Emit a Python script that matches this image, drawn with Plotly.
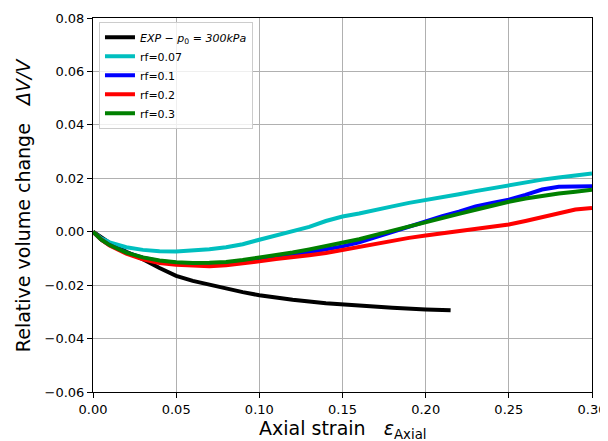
import plotly.graph_objects as go

# Experimental curve
exp_x = [0, 0.005, 0.01, 0.02, 0.03, 0.04, 0.05, 0.06, 0.07, 0.08, 0.09, 0.10,
         0.12, 0.14, 0.16, 0.18, 0.20, 0.215]
exp_y = [0, -0.0022, -0.0042, -0.0075, -0.0103, -0.0136, -0.0165, -0.0184, -0.0199,
         -0.0213, -0.0226, -0.0238, -0.0255, -0.0268, -0.0278, -0.0285, -0.0291, -0.0294]

# Simulation strain grid
sim_x = [0, 0.005, 0.01, 0.02, 0.03, 0.04, 0.05, 0.06, 0.07, 0.08, 0.09, 0.10,
         0.11, 0.12, 0.13, 0.14, 0.15, 0.16, 0.17, 0.18, 0.19, 0.20, 0.21, 0.22,
         0.23, 0.24, 0.25, 0.26, 0.27, 0.28, 0.29, 0.30]

rf007_y = [0, -0.0025, -0.0040, -0.0058, -0.0068, -0.0073, -0.0074, -0.0071, -0.0066,
           -0.0058, -0.0047, -0.0030, -0.0014, 0.0003, 0.0018, 0.0040, 0.0057, 0.0068,
           0.0080, 0.0095, 0.0108, 0.0118, 0.0130, 0.0140, 0.0152, 0.0163, 0.0175,
           0.0185, 0.0195, 0.0203, 0.0210, 0.0218]
rf01_y = [0, -0.0030, -0.0050, -0.0078, -0.0097, -0.0110, -0.0117, -0.0121, -0.0122,
          -0.0119, -0.0114, -0.0105, -0.0097, -0.0088, -0.0077, -0.0066, -0.0055,
          -0.0040, -0.0020, -0.0002, 0.0020, 0.0040, 0.0058, 0.0075, 0.0095, 0.0108,
          0.0120, 0.0138, 0.0158, 0.0168, 0.0170, 0.0170]
rf02_y = [0, -0.0030, -0.0052, -0.0082, -0.0103, -0.0117, -0.0124, -0.0128, -0.0129,
          -0.0126, -0.0120, -0.0111, -0.0102, -0.0096, -0.0088, -0.0080, -0.0068,
          -0.0058, -0.0045, -0.0035, -0.0023, -0.0014, -0.0006, 0.0002, 0.0010, 0.0018,
          0.0027, 0.0040, 0.0055, 0.0070, 0.0083, 0.0089]
rf03_y = [0, -0.0030, -0.0050, -0.0078, -0.0096, -0.0108, -0.0114, -0.0117, -0.0116,
          -0.0113, -0.0106, -0.0097, -0.0088, -0.0078, -0.0066, -0.0054, -0.0040,
          -0.0028, -0.0012, 0.0004, 0.0022, 0.0038, 0.0052, 0.0067, 0.0082, 0.0098,
          0.0112, 0.0124, 0.0135, 0.0143, 0.0150, 0.0157]

x_ticks = [0.00, 0.05, 0.10, 0.15, 0.20, 0.25, 0.30]
y_ticks = [-0.06, -0.04, -0.02, 0.00, 0.02, 0.04, 0.06, 0.08]

FONT = "DejaVu Sans"
LW = 4

fig = go.Figure()
fig.add_trace(go.Scatter(x=exp_x, y=exp_y, mode="lines",
                         name="<i>EXP − p</i><sub>0</sub><i> = 300kPa</i>",
                         line=dict(color="black", width=LW)))
for name, ys, col in [("rf=0.07", rf007_y, "#00BFBF"),
                      ("rf=0.1", rf01_y, "#0000FF"),
                      ("rf=0.2", rf02_y, "#FF0000"),
                      ("rf=0.3", rf03_y, "#008000")]:
    fig.add_trace(go.Scatter(x=sim_x, y=ys, mode="lines", name=name,
                             line=dict(color=col, width=LW)))

axis_common = dict(showline=True, linecolor="black", linewidth=1, mirror=True,
                   ticks="outside", ticklen=5, tickcolor="black",
                   showgrid=True, gridcolor="#b0b0b0", gridwidth=1.2,
                   zeroline=False, automargin=False,
                   tickfont=dict(family=FONT, size=13, color="black"))

fig.update_xaxes(range=[0, 0.30], tickvals=x_ticks, tickformat=".2f", **axis_common)
fig.update_yaxes(range=[-0.06, 0.08], tickvals=y_ticks, tickformat=".2f", **axis_common)

fig.add_annotation(text="Axial strain   <i>ε</i><sub>Axial</sub>", xref="paper", yref="paper",
                   x=0.5, y=-0.1, xanchor="center", yanchor="middle", showarrow=False,
                   font=dict(family=FONT, size=19, color="black"))
fig.add_annotation(text="Relative volume change   <i>ΔV/V</i>", xref="paper", yref="paper",
                   x=-0.14, y=0.5, xanchor="center", yanchor="middle", showarrow=False,
                   textangle=-90, font=dict(family=FONT, size=19, color="black"))

# page body has an 8px default margin, so the figure is 8px smaller than the window
fig.update_layout(
    width=600, height=433,
    margin=dict(l=85, r=16, t=10, b=49),
    paper_bgcolor="white", plot_bgcolor="white",
    font=dict(family=FONT, color="black"),
    showlegend=True,
    legend=dict(x=0.012, y=0.99, xanchor="left", yanchor="top",
                bgcolor="rgba(255,255,255,0.8)", bordercolor="#cccccc", borderwidth=1,
                font=dict(family=FONT, size=11, color="black"),
                itemwidth=30, tracegroupgap=0),
)

fig.write_html("out.html")
